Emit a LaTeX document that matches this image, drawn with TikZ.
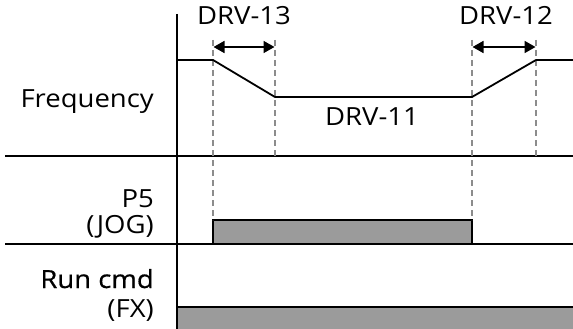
\documentclass[tikz,border=0pt]{standalone}
\usepackage{fontspec}
\setmainfont{Open Sans}[FakeStretch=1.1]
\newfontfamily\heavyfont{Open Sans}[FakeStretch=1.1,FakeBold=0.6]
\usetikzlibrary{arrows.meta,positioning}
\definecolor{pulsegray}{RGB}{155,155,155}
\definecolor{guidegray}{RGB}{140,140,140}
\tikzset{
  divider/.style={line width=2pt},
  wave/.style={line width=1.8pt, line join=miter},
  guide/.style={draw=guidegray, line width=1.6pt, dash pattern=on 6pt off 4pt},
  span/.style={{Triangle[length=11pt,width=12pt]}-{Triangle[length=11pt,width=12pt]}, line width=1.8pt, shorten <=0.5pt, shorten >=0.5pt},
  pulse/.style={fill=pulsegray, draw=black, line width=1.6pt},
  siglabel/.style={font=\fontsize{25}{27}\selectfont, anchor=base east, inner sep=0pt},
  timelabel/.style={font=\fontsize{25}{27}\selectfont, anchor=base, inner sep=0pt}
}
\begin{document}
\begin{tikzpicture}[x=1pt,y=-1pt]
\useasboundingbox (0,0) rectangle (573,329);
% time marks
\coordinate (t1) at (213,0);
\coordinate (t2) at (275,0);
\coordinate (t3) at (472,0);
\coordinate (t4) at (536,0);
% pulses
\draw[pulse] (213,244) rectangle (472,220);
\fill[pulsegray] (177,307) rectangle (573,329);
\draw[divider] (177,307) -- (573,307);
% grid
\draw[divider] (177,14) -- (177,329);
\draw[divider] (5,156) -- (573,156);
\draw[divider] (5,244) -- (573,244);
% guides
\draw[guide] (t1 |- 0,40) -- (t1 |- 0,220);
\draw[guide] (t2 |- 0,40) -- (t2 |- 0,156);
\draw[guide] (t3 |- 0,40) -- (t3 |- 0,220);
\draw[guide] (t4 |- 0,40) -- (t4 |- 0,156);
% frequency
\draw[wave] (177,60) -- (t1 |- 0,60) -- (t2 |- 0,97) -- (t3 |- 0,97) -- (t4 |- 0,60) -- (573,60);
% spans
\coordinate (a13) at (t1 |- 0,47);
\coordinate (b13) at (t2 |- 0,47);
\coordinate (a12) at (t3 |- 0,47);
\coordinate (b12) at (t4 |- 0,47);
\draw[span] (a13) -- (b13);
\draw[span] (a12) -- (b12);
% labels
\node[timelabel] (drv13) at (244,25) {DRV-13};
\node[timelabel] (drv12) at (506,25) {DRV-12};
\node[timelabel] (drv11) at (372,125) {DRV-11};
\node[siglabel] (freq) at (154,107) {Frequency};
\node[siglabel] (p5) at (154,207) {P5};
\node[siglabel] (jog) at (154,233) {(JOG)};
\node[siglabel] (run) at (154,288) {\heavyfont Run cmd};
\node[siglabel] (fx) at (154,317) {(FX)};
\end{tikzpicture}
\end{document}
